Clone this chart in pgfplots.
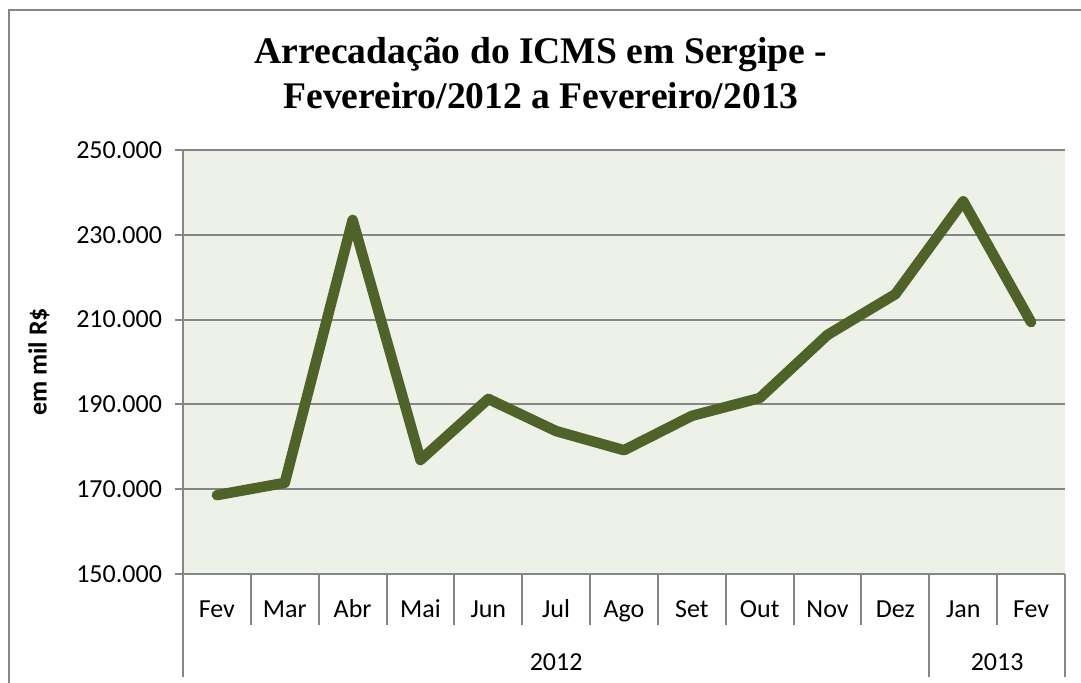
\documentclass[border=0pt]{standalone}
\usepackage{pgfplots}
\pgfplotsset{compat=1.18}
\usepackage{fontspec}
\setmainfont{Carlito}
\newfontfamily\titlefont{Liberation Serif}
\definecolor{icmsgreen}{RGB}{79,98,40}
\definecolor{plotbg}{RGB}{238,241,232}
\definecolor{rulegray}{RGB}{134,134,134}

\begin{document}
\begin{tikzpicture}
\begin{axis}[
    scale only axis,
    width=441pt, height=212pt,
    xmin=-0.5, xmax=12.5,
    ymin=150000, ymax=250000,
    ytick={150000,170000,...,250000},
    xtick=data,
    xticklabels={Fev,Mar,Abr,Mai,Jun,Jul,Ago,Set,Out,Nov,Dez,Jan,Fev},
    axis x line*=bottom, axis y line*=left,
    axis line style={rulegray, line width=1pt},
    ymajorgrids,
    major grid style={rulegray, line width=1pt},
    axis background/.style={fill=plotbg},
    tick align=outside,
    major tick length=4pt,
    ytick style={rulegray, line width=1pt},
    xtick style={draw=none},
    scaled y ticks=false,
    yticklabel style={/pgf/number format/fixed,
        /pgf/number format/1000 sep={.},
        /pgf/number format/assume math mode=true,
        font=\fontsize{13}{15}\selectfont, xshift=-3pt},
    xticklabel style={font=\fontsize{13}{15}\selectfont, anchor=base, yshift=-17.5pt},
    clip=false,
]
\addplot[icmsgreen, line width=5.25pt, line cap=round, line join=round, mark=none] coordinates {
    (0,168600) (1,171500) (2,233500) (3,176900) (4,191300) (5,183700)
    (6,179200) (7,187300) (8,191500) (9,206400) (10,216000) (11,237900) (12,209400)
};
\coordinate (O) at (rel axis cs:0,0);
% category separators
\pgfplotsinvokeforeach{-0.5,0.5,...,12.5}{
    \draw[rulegray, line width=1pt] (axis cs:#1,150000) -- ++(0pt,-25.5pt);
}
\pgfplotsinvokeforeach{-0.5,10.5,12.5}{
    \draw[rulegray, line width=1pt] (axis cs:#1,150000) -- ++(0pt,-51.5pt);
}
\node[anchor=base, font=\fontsize{13}{15}\selectfont] at ([yshift=-48pt]axis cs:5,150000) {2012};
\node[anchor=base, font=\fontsize{13}{15}\selectfont] at ([yshift=-48pt]axis cs:11.5,150000) {2013};
\end{axis}
% title
\node[anchor=base, font=\titlefont\bfseries\fontsize{18.8}{22}\selectfont]
    at ([shift={(179pt,255.5pt)}]O) {Arrecadação do ICMS em Sergipe -};
\node[anchor=base, font=\titlefont\bfseries\fontsize{18.8}{22}\selectfont]
    at ([shift={(179pt,233pt)}]O) {Fevereiro/2012 a Fevereiro/2013};
% y label
\node[rotate=90, anchor=center, font=\bfseries\fontsize{13}{15}\selectfont]
    at ([shift={(-72pt,106pt)}]O) {em mil R\$};
% chart frame
\draw[overlay, rulegray, line width=1pt] ([shift={(-86.75pt,-70pt)}]O) -- ([shift={(-86.75pt,282pt)}]O) -- ([shift={(470pt,282pt)}]O);
\path[use as bounding box] ([shift={(-91.5pt,-54pt)}]O) rectangle ([shift={(449pt,287pt)}]O);
\end{tikzpicture}
\end{document}
